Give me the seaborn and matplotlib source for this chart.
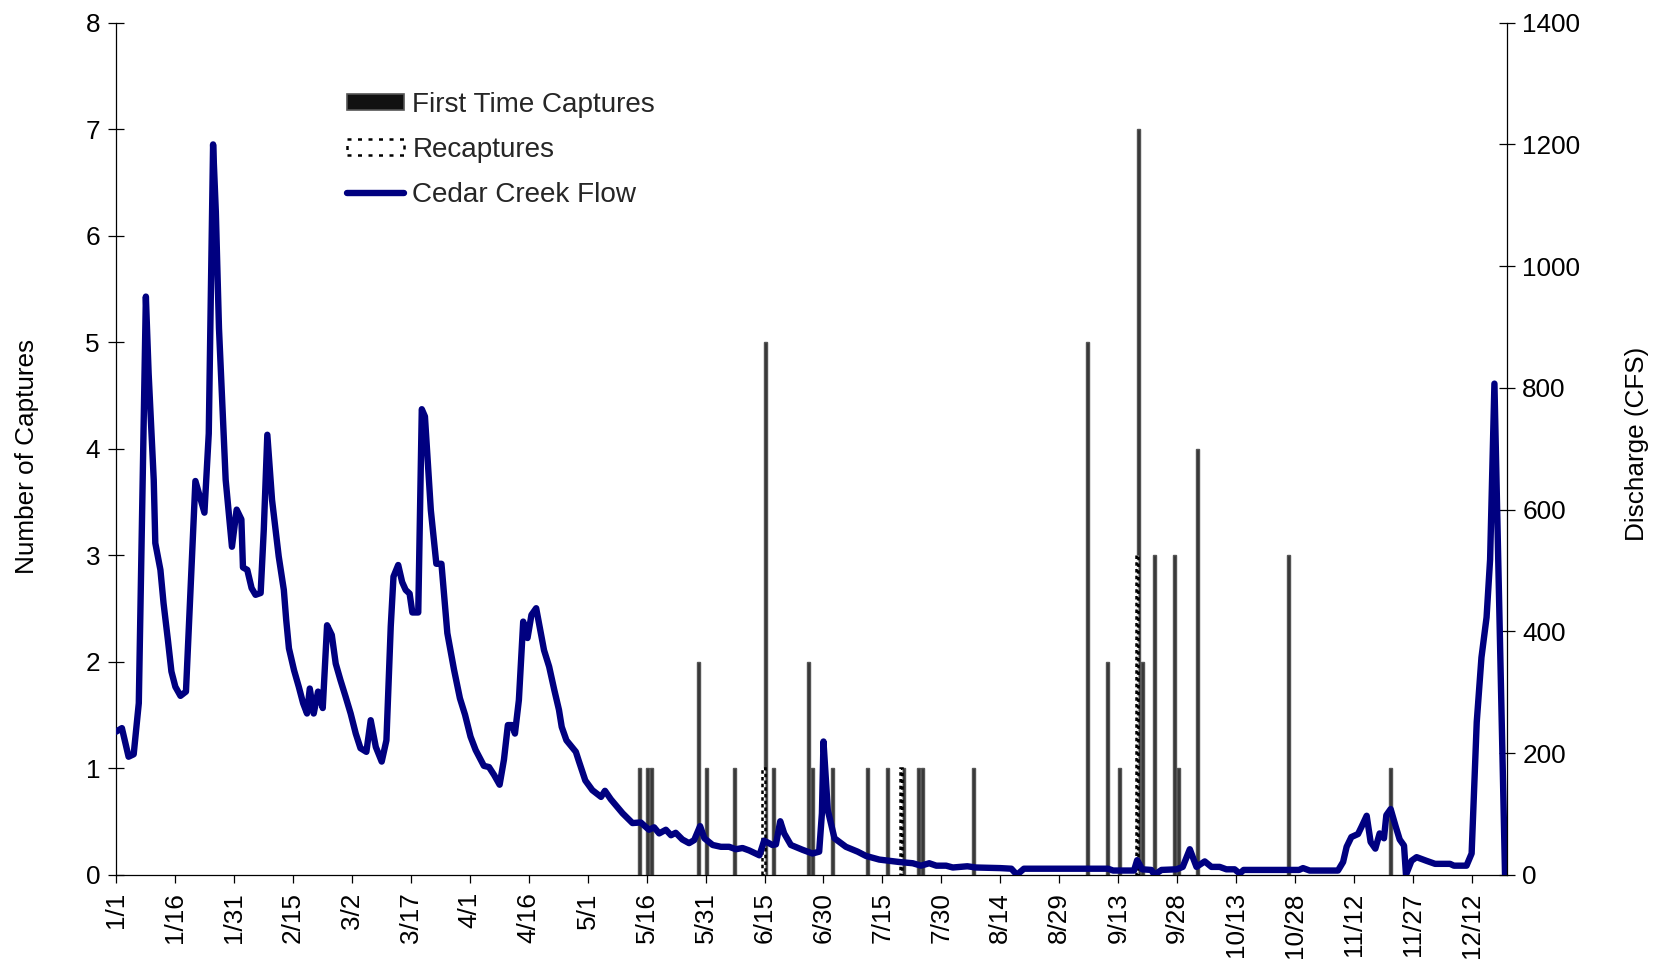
import numpy as np
import matplotlib
matplotlib.use("Agg")
import matplotlib.pyplot as plt
import seaborn as sns
from matplotlib.patches import Patch
from matplotlib.lines import Line2D

# ---- data -------------------------------------------------------------
# day of year (0 = 1/1) and number of fish caught
first_days = [133, 135, 136, 148, 150, 157, 165, 167, 176, 177, 182, 191, 196, 200,
              204, 205, 218, 247, 252, 255, 260, 261, 264, 269, 270, 275, 298, 324]
first_vals = [1, 1, 1, 2, 1, 1, 5, 1, 2, 1, 1, 1, 1, 1,
              1, 1, 1, 5, 2, 1, 7, 2, 3, 3, 1, 4, 3, 1]
recap_days = [165, 200, 260]
recap_vals = [1, 1, 3]

# Cedar Creek discharge (CFS) by day of year
flow_day = [0.0, 1.5, 3.2, 4.5, 5.8, 7.6, 8.3, 9.6, 10.0, 11.3, 12.1, 13.2, 14.1, 15.1,
            16.4, 17.8, 18.5, 20.2, 22.5, 23.6, 24.7, 25.4, 26.2, 27.9, 29.5, 30.7, 31.9,
            32.3, 33.4, 34.5, 35.5, 36.8, 37.6, 38.5, 39.7, 41.4, 42.7, 43.3, 44.0, 45.3,
            46.5, 47.6, 48.6, 49.3, 50.3, 51.4, 52.6, 53.7, 54.9, 55.9, 57.1, 58.4, 59.7,
            61.0, 62.2, 63.7, 64.8, 66.1, 67.6, 68.8, 69.9, 70.6, 71.8, 72.8, 73.7, 74.7,
            75.4, 76.9, 77.8, 78.6, 80.1, 81.5, 82.8, 84.3, 86.0, 87.5, 88.8, 90.2, 91.5,
            92.8, 93.6, 94.9, 96.2, 97.6, 98.7, 99.7, 100.8, 101.5, 102.5, 103.6, 104.7,
            105.7, 106.9, 108.1, 108.9, 110.2, 111.5, 112.7, 113.4, 114.6, 117.0, 117.8,
            119.4, 121.2, 123.4, 124.4, 125.9, 128.9, 131.4, 133.5, 135.6, 136.9, 138.2,
            139.9, 141.2, 142.4, 144.1, 145.8, 147.1, 148.6, 149.7, 151.8, 153.9, 156.0,
            157.7, 159.4, 161.1, 163.7, 164.9, 167.0, 167.9, 169.0, 170.0, 171.7, 174.7,
            177.2, 178.9, 179.6, 180.0, 181.1, 182.8, 185.7, 188.7, 190.8, 194.2, 196.8,
            199.3, 202.7, 204.8, 206.9, 208.7, 211.2, 212.9, 216.6, 218.8, 225.0, 227.8,
            229.2, 231.0, 252.4, 253.7, 259.0, 259.8, 261.1, 263.4, 264.2, 266.0, 269.8,
            271.4, 273.2, 274.9, 277.0, 278.7, 280.8, 282.5, 284.6, 285.9, 286.9, 301.0,
            302.0, 303.7, 310.9, 312.2, 313.1, 314.3, 316.0, 316.9, 318.2, 319.2, 320.4,
            321.5, 322.6, 323.2, 324.3, 325.6, 326.6, 327.7, 328.2, 329.6, 330.9, 333.4,
            335.6, 339.4, 340.4, 343.6, 344.9, 346.2, 347.4, 348.7, 349.6, 350.7, 353.4]
flow_cfs = [235, 241, 194, 198, 282, 950, 824, 649, 545, 501, 446, 386, 334, 309,
            294, 301, 402, 647, 595, 725, 1200, 1089, 898, 649, 539, 600, 584,
            505, 501, 471, 460, 463, 567, 723, 616, 523, 468, 419, 372, 336,
            309, 282, 265, 306, 265, 301, 274, 410, 394, 347, 320, 293, 265,
            232, 208, 202, 254, 210, 186, 221, 408, 490, 509, 481, 468, 462,
            431, 431, 765, 753, 599, 511, 511, 397, 337, 290, 263, 227, 205,
            189, 179, 177, 164, 148, 189, 246, 246, 232, 287, 416, 389,
            427, 438, 397, 369, 342, 304, 271, 243, 221, 202, 186,
            155, 139, 128, 138, 124, 101, 85, 86, 74, 78, 68,
            74, 65, 69, 58, 52, 57, 80, 60, 49, 46, 46,
            42, 44, 40, 32, 56, 49, 50, 88, 68, 49, 41,
            35, 38, 101, 219, 106, 60, 46, 38, 31, 25, 23,
            21, 19, 15, 19, 15, 15, 12, 14, 12, 11, 10,
            0, 10, 10, 7, 7, 24, 9, 8, 0, 8, 9,
            13, 42, 13, 22, 13, 13, 9, 9, 2, 8, 8,
            11, 7, 7, 21, 46, 62, 67, 79, 97, 54, 43,
            68, 60, 98, 108, 79, 58, 48, 0, 23, 29, 23,
            18, 18, 15, 15, 35, 251, 357, 423, 518, 807, 0]

tick_days = [0, 15, 30, 45, 60, 75, 90, 105, 120, 135, 150, 165, 180, 195, 210,
             225, 240, 255, 270, 285, 300, 315, 330, 345]
tick_labels = ["1/1", "1/16", "1/31", "2/15", "3/2", "3/17", "4/1", "4/16", "5/1",
               "5/16", "5/31", "6/15", "6/30", "7/15", "7/30", "8/14", "8/29", "9/13",
               "9/28", "10/13", "10/28", "11/12", "11/27", "12/12"]
series_names = ["First Time Captures", "Recaptures", "Cedar Creek Flow"]

# ---- style ------------------------------------------------------------
sns.set_theme(style="white")
plt.rcParams["font.family"] = ["Liberation Sans", "DejaVu Sans"]
FS = 18.8
NAVY = "#000080"

fig = plt.figure(figsize=(16.6, 9.64), dpi=100)
W, H = 1660, 964
x0, x1, y0, y1 = 116, 1507, 874.8, 22.7
ax = fig.add_axes([x0 / W, 1 - y0 / H, (x1 - x0) / W, (y0 - y1) / H])
ax2 = ax.twinx()

# capture columns (clustered: recaptures left of the date, first captures right)
ax.bar(np.array(first_days) + 0.25, first_vals, width=0.75, color="#333333",
       edgecolor="#555555", linewidth=1.0, zorder=2)
ax.bar(np.array(recap_days) - 0.25, recap_vals, width=0.55, facecolor="white",
       edgecolor="black", linewidth=1.8, linestyle=(0, (1.4, 1.3)), zorder=3)

# discharge line on the secondary axis
sns.lineplot(x=flow_day, y=flow_cfs, ax=ax2, color=NAVY, linewidth=4.6,
             sort=False, estimator=None, legend=False)
for ln in ax2.lines:
    ln.set_solid_capstyle("round")
    ln.set_solid_joinstyle("round")

# axes limits / ticks
ax.set_xlim(0, 353.9)
ax.set_ylim(0, 8)
ax2.set_ylim(0, 1400)
ax.set_yticks(range(0, 9))
ax2.set_yticks(range(0, 1401, 200))
ax.set_xticks(tick_days)
ax.set_xticklabels(tick_labels)

for a in (ax, ax2):
    a.spines["top"].set_visible(False)
    a.grid(False)
ax.spines["right"].set_visible(False)
ax2.spines["left"].set_visible(False)
ax2.spines["bottom"].set_visible(False)
for s in ("left", "bottom"):
    ax.spines[s].set_color("black")
    ax.spines[s].set_linewidth(0.9)
ax2.spines["right"].set_color("black")
ax2.spines["right"].set_linewidth(0.9)

ax.tick_params(axis="y", direction="inout", length=12, width=0.9, pad=5.5,
               labelsize=FS, colors="black", left=True)
ax2.tick_params(axis="y", direction="inout", length=12, width=0.9, pad=5.0,
                labelsize=FS, colors="black", right=True)
ax.tick_params(axis="x", direction="out", length=6, width=0.9, pad=6.5,
               labelsize=FS, colors="black", labelrotation=90, bottom=True)

ax.set_ylabel("Number of Captures", fontsize=FS, color="black")
ax.yaxis.set_label_coords(-0.0554, 0.491)
ax2.set_ylabel("Discharge (CFS)", fontsize=FS, color="black")
ax2.yaxis.set_label_coords(1.0848, 0.506)
ax.set_xlabel("")
ax2.set_xlabel("")

# legend
h1 = Patch(facecolor="#111111", edgecolor="#555555", linewidth=1.2)
h2 = Patch(facecolor="white", edgecolor="black", linewidth=1.8,
           linestyle=(0, (1.6, 2.6)))
h3 = Line2D([], [], color=NAVY, linewidth=4.6, solid_capstyle="round")
fig.legend([h1, h2, h3], series_names, loc="upper left",
           bbox_to_anchor=(346.7 / W, 1 - 92.0 / H), frameon=False,
           fontsize=20.1, handlelength=2.05, handleheight=0.5,
           handletextpad=0.3, labelspacing=0.68, borderpad=0, borderaxespad=0)

fig.savefig("out.png", dpi=100)
